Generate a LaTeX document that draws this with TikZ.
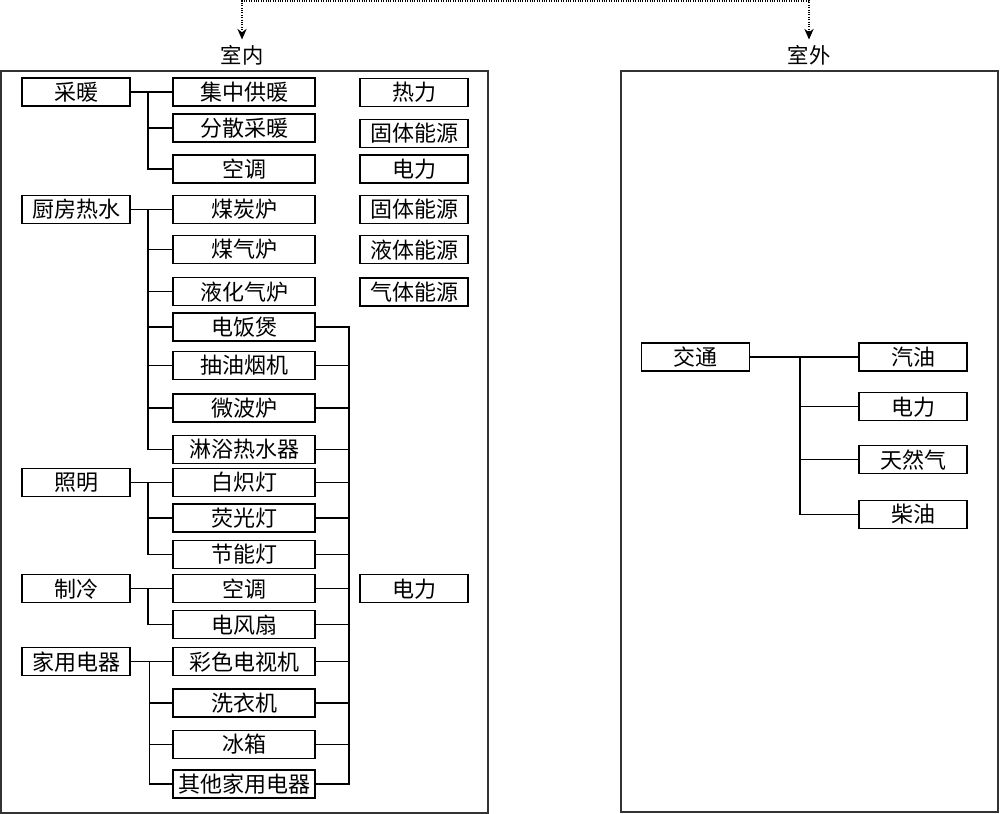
\documentclass[tikz,border=0pt]{standalone}
\usepackage{fontspec}
\newfontfamily\cjk{Noto Sans CJK SC}
\usetikzlibrary{arrows.meta,positioning,calc}

\begin{document}
\begin{tikzpicture}[x=0.75pt,y=-0.75pt,
  box/.style={draw,line width=0.8pt,inner sep=0pt,minimum height=21pt,font=\cjk\fontsize{16.5}{17}\selectfont},
  lbox/.style={box,minimum width=81pt},
  mbox/.style={box,minimum width=106.5pt},
  frame/.style={draw,line width=1pt,color=black!80},
  link/.style={line width=0.8pt},
  title/.style={inner sep=4pt,font=\cjk\fontsize{16}{17}\selectfont},
  dotlink/.style={densely dotted,line width=0.8pt,{Stealth[length=8pt,width=7pt]}-{Stealth[length=8pt,width=7pt]}}]
\useasboundingbox (0,0) rectangle (1000,814);
\draw[frame] (1,71) rectangle (488,813);
\draw[frame] (621,71) rectangle (998,812);
\node[title] (sn) at (242,55) {室内};
\node[title] (sw) at (809,55) {室外};
\coordinate (top) at (526,1);
\draw[dotlink] (sn.north) |- (top) -| (sw.north);
\node[lbox] (cn) at (76,92) {采暖};
\node[mbox] (jz) at (244,92) {集中供暖};
\node[mbox] (fs) at (244,128) {分散采暖};
\node[mbox] (kt1) at (244,169) {空调};
\node[lbox] (rl) at (414,92.5) {热力};
\node[lbox] (gt1) at (414,133.5) {固体能源};
\node[lbox] (dl1) at (414,169) {电力};
\node[lbox] (cf) at (76,209.5) {厨房热水};
\node[mbox] (mt) at (244,209.5) {煤炭炉};
\node[mbox] (mq) at (244,249.5) {煤气炉};
\node[mbox] (yh) at (244,291.7) {液化气炉};
\node[mbox] (dfb) at (244,327) {电饭煲};
\node[mbox] (yj) at (244,365.5) {抽油烟机};
\node[mbox] (wb) at (244,408) {微波炉};
\node[mbox] (ly) at (244,449.5) {淋浴热水器};
\node[lbox] (gt2) at (414,209.5) {固体能源};
\node[lbox] (yt) at (414,249.7) {液体能源};
\node[lbox] (qt) at (414,292) {气体能源};
\node[lbox] (zm) at (76,482.5) {照明};
\node[mbox] (bz) at (244,482.5) {白炽灯};
\node[mbox] (yg) at (244,518) {荧光灯};
\node[mbox] (jn) at (244,554.5) {节能灯};
\node[lbox] (zl) at (76,588.7) {制冷};
\node[mbox] (kt2) at (244,588.7) {空调};
\node[mbox] (df) at (244,624.7) {电风扇};
\node[lbox] (dl2) at (414,588.7) {电力};
\node[lbox] (jy) at (76,661.7) {家用电器};
\node[mbox] (cs) at (244,661.7) {彩色电视机};
\node[mbox] (xy) at (244,703) {洗衣机};
\node[mbox] (bx) at (244,744.5) {冰箱};
\node[mbox] (qj) at (244,784) {其他家用电器};
\node[lbox] (jt) at (695.5,357) {交通};
\node[lbox] (qy) at (913,357) {汽油};
\node[lbox] (dl3) at (913,406.7) {电力};
\node[lbox] (tr) at (913,459.7) {天然气};
\node[lbox] (cy) at (913,514.3) {柴油};
\coordinate (t1) at (148,92);
\coordinate (t2) at (148,209.5);
\coordinate (t3) at (148,482.5);
\coordinate (t4) at (148,588.7);
\coordinate (t5) at (149.5,661.7);
\coordinate (t6) at (800,357);
\coordinate (p) at (349,327);
\draw[link] (cn) -- (jz);
\draw[link] (t1) |- (fs.west);
\draw[link] (t1) |- (kt1.west);
\draw[link] (cf) -- (mt);
\draw[link] (t2) |- (mq.west);
\draw[link] (t2) |- (yh.west);
\draw[link] (t2) |- (dfb.west);
\draw[link] (t2) |- (yj.west);
\draw[link] (t2) |- (wb.west);
\draw[link] (t2) |- (ly.west);
\draw[link] (zm) -- (bz);
\draw[link] (t3) |- (yg.west);
\draw[link] (t3) |- (jn.west);
\draw[link] (zl) -- (kt2);
\draw[link] (t4) |- (df.west);
\draw[link] (jy) -- (cs);
\draw[link] (t5) |- (xy.west);
\draw[link] (t5) |- (bx.west);
\draw[link] (t5) |- (qj.west);
\draw[link] (dfb.east) -| (p |- qj.east) -- (qj.east);
\draw[link] (yj.east) -- (yj.east -| p) (wb.east) -- (wb.east -| p) (ly.east) -- (ly.east -| p)
  (bz.east) -- (bz.east -| p) (yg.east) -- (yg.east -| p) (jn.east) -- (jn.east -| p)
  (kt2.east) -- (kt2.east -| p) (df.east) -- (df.east -| p) (cs.east) -- (cs.east -| p)
  (xy.east) -- (xy.east -| p) (bx.east) -- (bx.east -| p);
\draw[link] (jt) -- (qy);
\draw[link] (t6) |- (dl3.west);
\draw[link] (t6) |- (tr.west);
\draw[link] (t6) |- (cy.west);
\end{tikzpicture}
\end{document}
